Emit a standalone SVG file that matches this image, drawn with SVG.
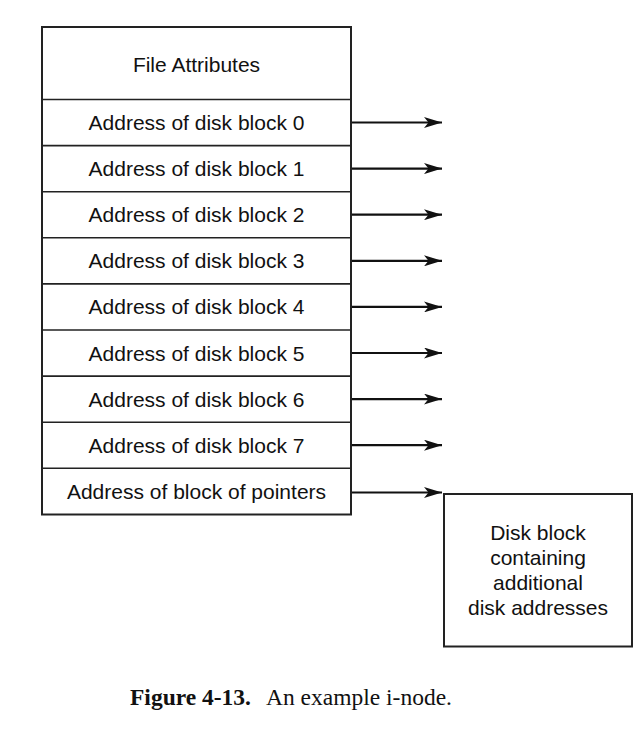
<svg xmlns="http://www.w3.org/2000/svg" width="643" height="739" viewBox="0 0 643 739">
<style>
.box{fill:#fff;stroke:#222;stroke-width:2}
.sep{stroke:#222;stroke-width:1.6}
.t{font-family:"Liberation Sans",Arial,sans-serif;font-size:21px;fill:#111;text-anchor:middle}
.arr{stroke:#111;stroke-width:2.2;fill:none;marker-end:url(#ah)}
.cap{font-family:"Liberation Serif","Times New Roman",serif;font-size:23.5px;fill:#111}
</style>
<defs>
<marker id="ah" markerWidth="19" markerHeight="11" refX="18" refY="5.5" orient="auto" markerUnits="userSpaceOnUse">
<path d="M0,0 L18,5.5 L0,11 L4.5,5.5 Z" fill="#111"/>
</marker>
</defs>
<rect width="643" height="739" fill="#fff"/>
<g id="inode">
<rect class="box" x="42" y="27" width="309" height="487.5"/>
<line class="sep" x1="42" y1="99.5" x2="351" y2="99.5"/>
<line class="sep" x1="42" y1="145.6" x2="351" y2="145.6"/>
<line class="sep" x1="42" y1="191.7" x2="351" y2="191.7"/>
<line class="sep" x1="42" y1="237.8" x2="351" y2="237.8"/>
<line class="sep" x1="42" y1="283.9" x2="351" y2="283.9"/>
<line class="sep" x1="42" y1="330" x2="351" y2="330"/>
<line class="sep" x1="42" y1="376.1" x2="351" y2="376.1"/>
<line class="sep" x1="42" y1="422.2" x2="351" y2="422.2"/>
<line class="sep" x1="42" y1="468.3" x2="351" y2="468.3"/>
</g>
<g id="attrs"><text class="t" x="196.5" y="72">File Attributes</text></g>
<g id="addr0"><text class="t" x="196.5" y="130">Address of disk block 0</text></g>
<g id="addr1"><text class="t" x="196.5" y="176.1">Address of disk block 1</text></g>
<g id="addr2"><text class="t" x="196.5" y="222.2">Address of disk block 2</text></g>
<g id="addr3"><text class="t" x="196.5" y="268.3">Address of disk block 3</text></g>
<g id="addr4"><text class="t" x="196.5" y="314.4">Address of disk block 4</text></g>
<g id="addr5"><text class="t" x="196.5" y="360.5">Address of disk block 5</text></g>
<g id="addr6"><text class="t" x="196.5" y="406.6">Address of disk block 6</text></g>
<g id="addr7"><text class="t" x="196.5" y="452.7">Address of disk block 7</text></g>
<g id="addrptr"><text class="t" x="196.5" y="498.8">Address of block of pointers</text></g>
<g id="diskblock">
<rect class="box" x="444" y="494" width="188" height="152.5"/>
<text class="t" x="538" y="540">Disk block</text>
<text class="t" x="538" y="565">containing</text>
<text class="t" x="538" y="590">additional</text>
<text class="t" x="538" y="615">disk addresses</text>
</g>
<g id="connectors">
<line class="arr" x1="352" y1="122.5" x2="442" y2="122.5"/>
<line class="arr" x1="352" y1="168.6" x2="442" y2="168.6"/>
<line class="arr" x1="352" y1="214.7" x2="442" y2="214.7"/>
<line class="arr" x1="352" y1="260.8" x2="442" y2="260.8"/>
<line class="arr" x1="352" y1="306.9" x2="442" y2="306.9"/>
<line class="arr" x1="352" y1="353" x2="442" y2="353"/>
<line class="arr" x1="352" y1="399.1" x2="442" y2="399.1"/>
<line class="arr" x1="352" y1="445.2" x2="442" y2="445.2"/>
<line class="arr" x1="352" y1="492.5" x2="442" y2="492.5"/>
</g>
<text class="cap" x="130" y="705"><tspan font-weight="bold">Figure 4-13.</tspan><tspan x="266">An example i-node.</tspan></text>
</svg>
